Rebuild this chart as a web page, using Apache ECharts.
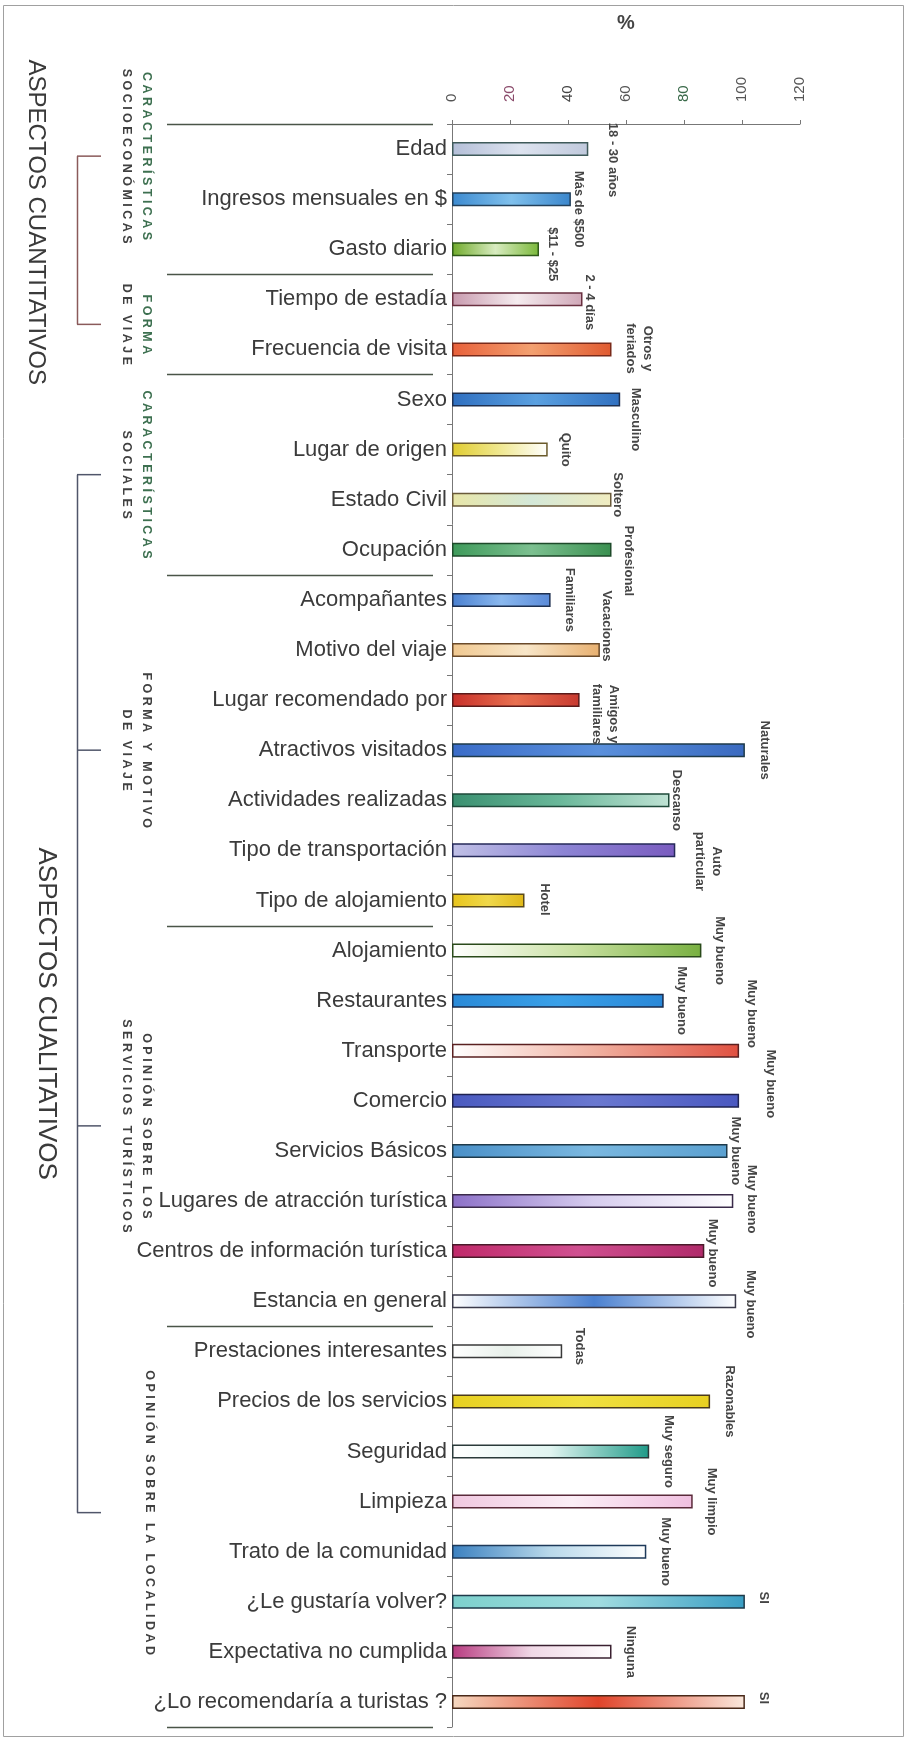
<!DOCTYPE html>
<html><head><meta charset="utf-8">
<script src="https://cdn.jsdelivr.net/npm/echarts@6/dist/echarts.min.js"></script>
<style>html,body{margin:0;padding:0;background:#fff}#c{width:906px;height:1743px}</style>
</head><body><div id="c"></div>
<script>
// ---------- data ----------
const categories = [
  'Edad','Ingresos mensuales en $','Gasto diario','Tiempo de estadía','Frecuencia de visita',
  'Sexo','Lugar de origen','Estado Civil','Ocupación',
  'Acompañantes','Motivo del viaje','Lugar recomendado por','Atractivos visitados','Actividades realizadas','Tipo de transportación','Tipo de alojamiento',
  'Alojamiento','Restaurantes','Transporte','Comercio','Servicios Básicos','Lugares de atracción turística','Centros de información turística','Estancia en general',
  'Prestaciones interesantes','Precios de los servicios','Seguridad','Limpieza','Trato de la comunidad','¿Le gustaría volver?','Expectativa no cumplida','¿Lo recomendaría a turistas ?'
];
const values = [47,41,30,45,55, 58,33,55,55, 34,51,44,101,75,77,25, 86,73,99,99,95,97,87,98, 38,89,68,83,67,101,55,101];
const barLabels = [
  '18 - 30 años','Más de $500','$11 - $25','2 - 4 días','Otros y\nferiados',
  'Masculino','Quito','Soltero','Profesional',
  'Familiares','Vacaciones','Amigos y\nfamiliares','Naturales','Descanso','Auto\nparticular','Hotel',
  'Muy bueno','Muy bueno','Muy bueno','Muy bueno','Muy bueno','Muy bueno','Muy bueno','Muy bueno',
  'Todas','Razonables','Muy seguro','Muy limpio','Muy bueno','SI','Ninguna','SI'
];
const xMin = 0, xMax = 120, xStep = 20;
const groupNames = [
  ['CARACTERÍSTICAS','SOCIOECONÓMICAS'],
  ['FORMA','DE VIAJE'],
  ['CARACTERÍSTICAS','SOCIALES'],
  ['FORMA Y MOTIVO','DE VIAJE'],
  ['OPINIÓN SOBRE LOS','SERVICIOS TURÍSTICOS'],
  ['OPINIÓN SOBRE LA LOCALIDAD']
];
const groupSizes = [3,2,4,7,8,8];
const sectionTitles = ['ASPECTOS CUANTITATIVOS','ASPECTOS CUALITATIVOS'];
const sectionGroups = [[0,1],[2,5]];

// ---------- styles / layout tweaks ----------
// manual nudges of the value labels, [right, down] in px, as placed in the original figure
const labelNudge = [
  [5,11],[-11,10],[-5,5],[-12,3],[9,-1],
  [-4,20],[-1,0],[-13,-5],[-2,11],
  [0,0],[-12,-24],[6,14],[1,0],[-12,0],[14,11],[1,-1],
  [-1,0],[-1,0],[-7,-37],[12,-17],[-11,0],[-1,-2],[-11,2],[-5,3],
  [-2,-5],[0,0],[0,0],[0,0],[0,0],[0,-4],[0,0],[0,-4]
];
const groupLabelShift = [-43,0,0,0,0,-14];
const groupLine1Colors = ['#3d7050','#3d7050','#3d7050','#404040','#404040','#404040'];
const sectionColors = ['#8a5a5a','#50566a'];
const titleShift = [-18, 20];
const titleFont = [24, 26];
const tickColors = ['#555','#8a4a6a','#444','#555','#3a6a4a','#555','#555'];
const barStyles = [
  ['#b4bfd8','#dde3ef','#c0c9dc','#3f5a5a'],
  ['#3c8ad0','#7fc0ec','#3a86cc','#23405a'],
  ['#6faa2a','#d8ecc0','#7ab83a','#2f5a1a'],
  ['#c89aae','#f5ecef','#d0a8b8','#6a3040'],
  ['#e8603a','#f3a070','#e05a30','#7a2a1a'],
  ['#2f6fc0','#5aa0e0','#3070c0','#1e3050'],
  ['#e0cc30','#f0e890','#ffffff','#6a5a2a'],
  ['#e8e6a8','#d4e8d8','#f0ecc0','#6a5a3a'],
  ['#3e9a5a','#7cc090','#3a9050','#1e4a2a'],
  ['#4a80d0','#8ab8ee','#5a8ad8','#1e3050'],
  ['#f0c890','#f8e6c8','#e8b070','#6a4a2a'],
  ['#c8302a','#e87050','#c83a30','#5a1a1a'],
  ['#3a6cc8','#5a90dc','#3a6ac0','#1e3a4a'],
  ['#3a9070','#6ab89a','#bfe2d4','#1e4a3a'],
  ['#c0c0e6','#8c84d4','#7a5cc0','#262a5a'],
  ['#e8c41a','#f0d84a','#e0b818','#5a4a1a'],
  ['#ffffff','#c8e0a0','#78b040','#2a4a1a'],
  ['#2a8ad8','#3aa0e8','#2a88d8','#1a2a4a'],
  ['#ffffff','#f0b0a0','#e05040','#5a2020'],
  ['#4a5ac0','#6a78d0','#4a58c0','#1e2250'],
  ['#4a90c8','#7ab8e0','#5aa0d0','#1e3a4a'],
  ['#8c70c8','#d6ccee','#ffffff','#3a2a4a'],
  ['#c02a6a','#d05090','#b02a6a','#4a1a2a'],
  ['#ffffff','#4a80d0','#ffffff','#3a3a4a'],
  ['#ffffff','#e8f0ea','#ffffff','#3a3a3a'],
  ['#e8d020','#f0e040','#e8d020','#4a3a1a'],
  ['#ffffff','#e0f4f0','#1e9a88','#2a3a3a'],
  ['#f0c8e0','#fbeef6','#f0c0e0','#5a2a3a'],
  ['#3a80c0','#b8d8ea','#ffffff','#1e3a5a'],
  ['#7cd0cc','#a0dce0','#3a9ec4','#1e3a4a'],
  ['#b83a80','#f0d8e6','#ffffff','#3a2030'],
  ['#f6d8c0','#e0442a','#fae8dc','#4a2a1a']
];
const FONT = '"Liberation Sans", Arial, sans-serif';

const chart = echarts.init(document.getElementById('c'), null, {renderer: 'canvas'});

const barData = values.map((v, i) => {
  const s = barStyles[i];
  const n = labelNudge[i];
  return {
    value: v,
    itemStyle: {
      color: new echarts.graphic.LinearGradient(0, 0, 1, 0, [
        {offset: 0, color: s[0]}, {offset: 0.5, color: s[1]}, {offset: 1, color: s[2]}
      ]),
      borderColor: s[3], borderWidth: 1.5
    },
    // label is rotated -90deg: local x points down, local y points left
    label: {offset: [n[1], -n[0]]}
  };
});

chart.setOption({
  animation: false,
  backgroundColor: '#fff',
  grid: {left: 452, top: 124, width: 348, height: 1603, containLabel: false},
  xAxis: {
    type: 'value', position: 'top', min: xMin, max: xMax, interval: xStep,
    name: '%', nameLocation: 'middle', nameGap: 91, nameMoveOverlap: false,
    nameTextStyle: {fontSize: 20, fontWeight: 'bold', color: '#444', fontFamily: FONT},
    axisLine: {show: true, lineStyle: {color: '#777', width: 1}},
    axisTick: {show: true, length: 4, lineStyle: {color: '#777'}},
    splitLine: {show: false},
    axisLabel: {rotate: -90, margin: 22, fontSize: 15, fontFamily: FONT,
      color: (v) => tickColors[Math.round(Number(v) / xStep)] || '#555'}
  },
  yAxis: {
    type: 'category', inverse: true, data: categories,
    axisLine: {show: true, lineStyle: {color: '#777'}},
    axisTick: {show: true, length: 5, lineStyle: {color: '#777'}},
    axisLabel: {fontSize: 22, color: '#3b3b3b', margin: 5, fontFamily: FONT}
  },
  series: [{
    type: 'bar', data: barData, barWidth: 14,
    label: {
      show: true, position: 'right', distance: 19, rotate: -90,
      align: 'center', verticalAlign: 'middle',
      formatter: (p) => barLabels[p.dataIndex],
      fontSize: 13, fontWeight: 'bold', color: '#454545', fontFamily: FONT, lineHeight: 17
    }
  }]
});

// ---------- decorations derived from the category scale ----------
const c0 = chart.convertToPixel({yAxisIndex: 0}, 0);
const c1 = chart.convertToPixel({yAxisIndex: 0}, 1);
const band = c1 - c0;
const yAt = (u) => c0 + (u - 0.5) * band;

const bounds = [0];
groupSizes.forEach(s => bounds.push(bounds[bounds.length - 1] + s));

const spaced = (s) => s.split(' ').map(w => w.split('').join(' ')).join('   ');
const ROT = -Math.PI / 2;
const g = [];

// frame
g.push({type: 'rect', shape: {x: 3.5, y: 5.5, width: 900, height: 1731}, style: {fill: 'none', stroke: '#a0a0a0', lineWidth: 1}, silent: true});

// separators between groups
bounds.forEach(b => {
  const y = Math.round(yAt(b)) + 0.5;
  g.push({type: 'line', shape: {x1: 167, y1: y, x2: 433, y2: y}, style: {stroke: '#4a5548', lineWidth: 1.6}, silent: true});
});

// group labels
const groupCenters = groupSizes.map((s, i) => yAt(bounds[i] + s / 2) + groupLabelShift[i]);
groupNames.forEach((lines, i) => {
  const y = groupCenters[i];
  const xs = lines.length === 1 ? [149] : [146, 126];
  lines.forEach((t, k) => {
    g.push({type: 'text', x: xs[k], y: y, rotation: ROT, silent: true,
      style: {text: spaced(t), align: 'center', verticalAlign: 'middle',
        font: 'bold 12.5px ' + FONT, fill: k === 0 ? groupLine1Colors[i] : '#404040'}});
  });
});

// section brackets + titles
const titleX = [36, 46];
sectionGroups.forEach((rg, si) => {
  const top = groupCenters[rg[0]], bot = groupCenters[rg[1]];
  const col = sectionColors[si];
  g.push({type: 'line', shape: {x1: 77.5, y1: top, x2: 77.5, y2: bot}, style: {stroke: col, lineWidth: 1.5}, silent: true});
  for (let k = rg[0]; k <= rg[1]; k++) {
    g.push({type: 'line', shape: {x1: 77, y1: groupCenters[k], x2: 101, y2: groupCenters[k]}, style: {stroke: col, lineWidth: 1.5}, silent: true});
  }
  g.push({type: 'text', x: titleX[si], y: (top + bot) / 2 + titleShift[si], rotation: ROT, silent: true,
    style: {text: sectionTitles[si], align: 'center', verticalAlign: 'middle',
      font: titleFont[si] + 'px ' + FONT, fill: '#3a3a3a'}});
});

chart.setOption({graphic: {elements: g}});
</script>
</body></html>
